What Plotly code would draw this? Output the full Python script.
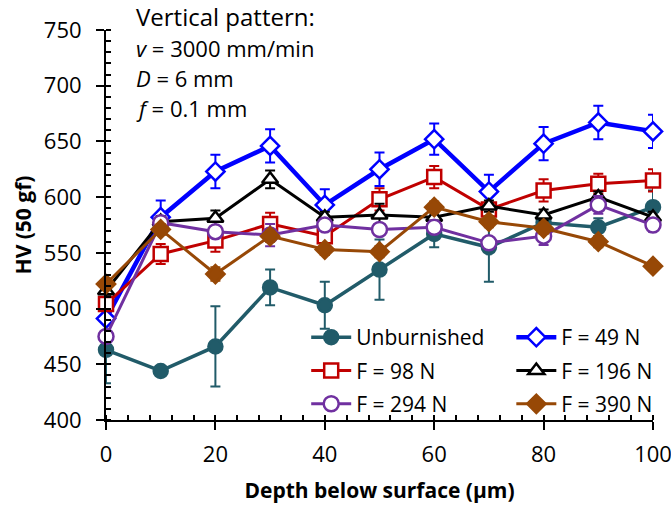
import plotly.graph_objects as go

depth = [0, 10, 20, 30, 40, 50, 60, 70, 80, 90, 100]

unburnished = [463, 444, 466, 519, 503, 535, 567, 555, 577, 573, 591]
unburnished_err = [30, 3, 36, 16, 21, 27, 12, 31, 8, 8, 15]

f49 = [491, 582, 623, 646, 593, 625, 652, 605, 648, 667, 659]
f49_err = [5, 15, 15, 15, 14, 15, 14, 15, 15, 15, 15]

f98 = [504, 549, 561, 576, 565, 598, 618, 589, 606, 612, 615]
f98_err = [5, 9, 10, 10, 10, 10, 10, 5, 10, 9, 10]

f196 = [516, 578, 581, 616, 582, 584, 582, 592, 584, 600, 582]
f196_err = [5, 5, 7, 8, 5, 10, 5, 5, 5, 5, 5]

f294 = [475, 577, 569, 566, 575, 571, 573, 559, 565, 593, 575]
f294_err = [5, 5, 5, 10, 5, 5, 5, 5, 8, 8, 6]

f390 = [522, 571, 531, 565, 553, 551, 591, 578, 572, 560, 538]
f390_err = [5, 5, 6, 5, 5, 5, 5, 5, 5, 5, 4]

FONT = "Open Sans"

series = [
    ("Unburnished", unburnished, unburnished_err, "#215B69", "circle", True, 14, 3.5, "legend"),
    ("F = 49 N", f49, f49_err, "#0000FF", "diamond", False, 14, 4.5, "legend2"),
    ("F = 98 N", f98, f98_err, "#C00000", "square", False, 14, 3, "legend"),
    ("F = 196 N", f196, f196_err, "#000000", "triangle-up", False, 14, 3, "legend2"),
    ("F = 294 N", f294, f294_err, "#7030A0", "circle", False, 15, 3, "legend"),
    ("F = 390 N", f390, f390_err, "#974806", "diamond", True, 14, 3, "legend2"),
]

fig = go.Figure()
for name, vals, errs, color, sym, filled, size, lw, leg in series:
    fig.add_trace(go.Scatter(
        x=depth, y=vals, name=name, mode="lines+markers",
        line=dict(color=color, width=lw),
        marker=dict(symbol=sym, size=size, color=color if filled else "white",
                    line=dict(color=color, width=2.5)),
        error_y=dict(type="data", array=errs, visible=True, color=color, thickness=2, width=5),
        cliponaxis=False, legend=leg, legendgroup=name,
    ))

fig.update_layout(
    width=671, height=506,
    margin=dict(l=106, r=18, t=30, b=86, autoexpand=False),
    paper_bgcolor="white", plot_bgcolor="white",
    font=dict(family=FONT, size=22, color="black"),
    legend=dict(x=0.366, y=0.264, xanchor="left", yanchor="top", bgcolor="rgba(0,0,0,0)",
                font=dict(size=21), tracegroupgap=3, itemwidth=40),
    legend2=dict(x=0.741, y=0.264, xanchor="left", yanchor="top", bgcolor="rgba(0,0,0,0)",
                 font=dict(size=21), tracegroupgap=3, itemwidth=40),
    annotations=[
        dict(x=0.052, y=1.035, xref="paper", yref="paper", xanchor="left", yanchor="middle",
             text="Vertical pattern:", showarrow=False, font=dict(size=24)),
        dict(x=0.052, y=0.954, xref="paper", yref="paper", xanchor="left", yanchor="middle",
             text="<i>v</i> = 3000 mm/min", showarrow=False, font=dict(size=22)),
        dict(x=0.052, y=0.877, xref="paper", yref="paper", xanchor="left", yanchor="middle",
             text="<i>D</i> = 6 mm", showarrow=False, font=dict(size=22)),
        dict(x=0.052, y=0.8, xref="paper", yref="paper", xanchor="left", yanchor="middle",
             text="<i>f</i> = 0.1 mm", showarrow=False, font=dict(size=22)),
    ],
)
fig.update_xaxes(
    range=[0, 100], dtick=20, showgrid=False, zeroline=False, automargin=False,
    showline=True, linecolor="black", linewidth=2,
    ticks="outside", ticklen=8, tickwidth=2, tickcolor="black",
    minor=dict(dtick=4, ticks="inside", ticklen=5, tickwidth=1.5, tickcolor="black"),
    ticklabelstandoff=6, ticklabeloverflow="allow",
    title=dict(text="<b>Depth below surface (µm)</b>", font=dict(size=21), standoff=16),
)
fig.update_yaxes(
    range=[400, 750], dtick=50, showgrid=False, zeroline=False, automargin=False,
    showline=True, linecolor="black", linewidth=2,
    ticks="outside", ticklen=8, tickwidth=2, tickcolor="black",
    minor=dict(dtick=10, ticks="inside", ticklen=5, tickwidth=1.5, tickcolor="black"),
    ticklabelstandoff=10, ticklabeloverflow="allow",
    title=dict(text="<b>HV (50 gf)</b>", font=dict(size=21), standoff=6),
)

fig.write_html(
    "out.html",
    config={"displayModeBar": False},
    post_script="document.body.style.margin='0px';document.body.style.overflow='hidden';",
)
